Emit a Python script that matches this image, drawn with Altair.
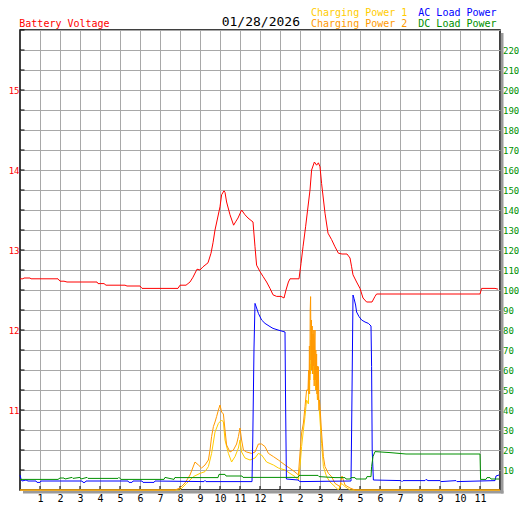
import altair as alt
import pandas as pd

# ---------------- data (hours since midnight) ----------------
volt_hours = [0.0, 0.15, 0.2, 0.5, 0.55, 1.9, 2.0, 2.2, 2.35, 3.85, 3.9, 4.2, 4.3, 5.25, 5.35, 6.0, 6.1, 7.9,
              8.0, 8.3, 8.4, 8.5, 8.65, 8.85, 9.0, 9.15, 9.4, 9.55, 9.65, 9.75, 9.88, 10.0, 10.08, 10.2, 10.25,
              10.33, 10.5, 10.68, 10.8, 10.9, 11.08, 11.25, 11.4, 11.65, 11.75, 11.83, 12.0, 12.15, 12.33, 12.5,
              12.65, 12.83, 13.05, 13.2, 13.3, 13.42, 13.5, 13.95, 14.05, 14.15, 14.28, 14.38, 14.5, 14.58, 14.72,
              14.83, 14.92, 15.0, 15.08, 15.25, 15.4, 15.58, 15.75, 15.92, 16.1, 16.35, 16.5, 16.58, 16.65, 16.83,
              17.0, 17.15, 17.33, 17.6, 17.75, 17.83, 23.0, 23.08, 23.75, 23.9]
volt_values = [12.64, 12.64, 12.65, 12.65, 12.64, 12.64, 12.61, 12.61, 12.60, 12.60, 12.58, 12.58, 12.56, 12.56,
               12.55, 12.55, 12.52, 12.52, 12.56, 12.56, 12.58, 12.60, 12.66, 12.76, 12.75, 12.79, 12.84, 12.96,
               13.09, 13.25, 13.40, 13.54, 13.69, 13.74, 13.72, 13.60, 13.44, 13.31, 13.36, 13.40, 13.50, 13.44,
               13.40, 13.35, 13.04, 12.81, 12.73, 12.67, 12.60, 12.52, 12.44, 12.42, 12.42, 12.40, 12.50, 12.60,
               12.64, 12.64, 12.83, 13.04, 13.29, 13.50, 13.75, 14.00, 14.10, 14.06, 14.09, 14.04, 13.83, 13.46,
               13.21, 13.13, 13.04, 12.96, 12.95, 12.95, 12.90, 12.79, 12.69, 12.60, 12.52, 12.40, 12.35, 12.35,
               12.42, 12.45, 12.45, 12.52, 12.52, 12.51]

cp1_hours = [0.0, 7.9, 8.0, 8.33, 8.67, 9.0, 9.25, 9.42, 9.58, 9.75, 9.92, 10.08, 10.17, 10.25, 10.42, 10.58,
             10.75, 10.92, 11.0, 11.08, 11.25, 11.5, 11.75, 11.92, 12.08, 12.33, 12.67, 12.92, 13.25, 13.5, 13.75,
             13.92, 14.0, 14.08, 14.17, 14.25, 14.33, 14.42, 14.45, 14.48, 14.5, 14.53, 14.55, 14.58, 14.62,
             14.65, 14.67, 14.7, 14.75, 14.78, 14.83, 14.87, 14.92, 15.0,
             15.08, 15.17, 15.33, 15.5, 15.75, 15.92, 16.08, 16.25, 16.5, 24.0]
cp1_values = [0, 0, 0, 3.3, 6.7, 8.3, 9.2, 11.7, 18.3, 29, 33.3, 35, 34, 25, 18.3, 14, 16.7, 21, 25, 19, 16, 15,
              16, 18.3, 17.5, 14, 12.5, 11, 10, 8.3, 6.7, 5, 11.7, 21.7, 30, 36.7, 45, 43, 55, 48, 63, 58, 75, 60,
              70, 58, 71.7, 55, 61.7, 50, 55, 45, 46.7, 35,
              23.3, 11.7, 6.7, 4, 1.7, 0, 3.3, 1.7, 0, 0]

cp2_hours = [0.0, 7.75, 8.0, 8.25, 8.5, 8.75, 8.92, 9.08, 9.25, 9.42, 9.5, 9.58, 9.67, 9.75, 9.83, 9.92, 10.0,
             10.08, 10.17, 10.25, 10.33, 10.5, 10.67, 10.83, 10.92, 11.0, 11.08, 11.17, 11.33, 11.58, 11.75, 11.92,
             12.08, 12.25, 12.42, 12.67, 12.92, 13.25, 13.5, 13.75, 13.92, 14.0, 14.08, 14.17, 14.25, 14.33, 14.4,
             14.43, 14.45, 14.47, 14.49, 14.51, 14.53, 14.55, 14.57, 14.59, 14.61, 14.63, 14.65, 14.67, 14.69,
             14.71, 14.73, 14.75, 14.77, 14.79, 14.81, 14.83, 14.85, 14.87, 14.9, 14.92, 14.95, 14.97,
             15.0, 15.08, 15.17, 15.25, 15.42, 15.58, 15.75, 16.0, 16.1, 16.25, 16.5, 16.75, 24.0]
cp2_values = [0, 0, 1, 3.5, 7.5, 14, 12.5, 11, 12.5, 15, 20, 26.7, 31.7, 34, 36.7, 40, 42.5, 39, 38, 30, 22.5, 19,
              20, 23, 26.7, 31, 25, 20, 19, 18.3, 19, 23, 23, 21.7, 18.3, 16.7, 15, 12.5, 10.8, 9, 7.5, 18.5, 28.5,
              33.5, 41.7, 50, 50, 60, 48, 72, 55, 90, 96.7, 65, 85, 60, 82, 58, 78, 62, 80, 52, 75, 80, 55, 70, 50,
              68, 48, 62, 45, 61.7, 40, 45,
              41.7, 28.5, 16.7, 11.7, 8.3, 6.7, 3.3, 1.7, 7, 2.5, 1, 0, 0]

ac_hours = [0.0, 0.05, 0.1, 0.3, 0.4, 0.8, 0.85, 1.0, 1.05, 3.1, 3.15, 3.25, 3.3, 5.4, 5.45, 5.6, 5.65, 6.1, 6.15,
            6.7, 6.75, 9.2, 9.25, 9.3, 11.6, 11.64, 11.7, 11.75, 11.83, 11.92, 12.08, 12.25, 12.5, 12.65, 12.9,
            13.25, 13.28, 13.32, 13.9, 14.0, 16.55, 16.58, 16.65, 16.7, 16.78, 16.83, 16.95, 17.08, 17.25, 17.42,
            17.55, 17.58, 17.61, 17.67, 19.05, 19.1, 19.15, 20.25, 20.3, 20.4, 21.0, 21.05, 21.8, 21.85, 23.75,
            23.8, 23.95]
ac_values = [7.5, 5.5, 4.5, 5.0, 4.5, 4.5, 3.8, 3.8, 4.5, 4.5, 3.8, 3.8, 4.5, 4.5, 3.8, 3.8, 4.5, 4.5, 3.8, 3.8,
             4.5, 4.2, 4.8, 4.2, 4.2, 26.5, 71, 93.3, 91, 88.3, 85, 83.3, 81.7, 80.8, 80, 79, 43, 5.5, 5.0, 4.2,
             4.5, 29, 97.5, 95.8, 92.5, 89, 86.7, 85, 84, 83.3, 82, 61.7, 20, 5, 4.7, 4.2, 4.7, 4.7, 5.3, 4.7, 4.7,
             4.2, 4.7, 4.2, 4.7, 7, 7.5]

dc_hours = [0.0, 1.9, 2.0, 2.2, 2.25, 2.6, 2.65, 3.0, 3.05, 3.35, 3.4, 4.9, 4.95, 5.05, 7.2, 7.25, 7.7, 7.75, 7.8,
            9.9, 9.95, 10.25, 10.3, 11.1, 11.15, 13.9, 13.95, 14.9, 14.95, 15.75, 16.25, 16.3, 16.5, 16.55, 16.75,
            16.8, 17.3, 17.35, 17.55, 17.58, 17.65, 17.75, 18.5, 19.3, 23.0, 23.03, 23.3, 23.35, 23.5, 23.55, 23.95]
dc_values = [5.3, 5.3, 6.0, 6.0, 5.5, 6.3, 5.8, 6.3, 5.5, 6.3, 5.8, 5.8, 6.3, 5.3, 5.3, 6.3, 5.3, 6.3, 6.2, 6.2,
             7.8, 7.8, 7.0, 7.0, 6.3, 6.3, 7.3, 7.3, 6.7, 6.2, 6.2, 5.5, 5.5, 6.2, 6.2, 5.5, 5.5, 6.7, 6.7, 11.7,
             16.7, 19.2, 18.7, 18.0, 18.0, 5.3, 5.3, 6.2, 6.2, 5.5, 5.5]

hour_ticks = list(range(1, 24))
volt_grid = [10 + 0.25 * i for i in range(24)]
power_ticks = list(range(10, 230, 10))

title_left = "Battery Voltage"
date_text = "01/28/2026"
legend_labels = ["Charging Power 1", "Charging Power 2", "AC Load Power", "DC Load Power"]

# ---------------- styling ----------------
FONT = "DejaVu Sans Mono"
W, H = 480, 460
GRID = "#a8a8a8"
RED, YEL, ORA, BLU, GRN = "#ff0000", "#ffcc00", "#ff9900", "#0000ff", "#009000"

hour_scale = alt.Scale(domain=[0, 24], nice=False, zero=False)
volt_scale = alt.Scale(domain=[10, 15.75], nice=False, zero=False)
power_scale = alt.Scale(domain=[0, 230], nice=False, zero=False)

x_axis = alt.Axis(values=hour_ticks, labelExpr="datum.value == 12 ? '12' : '' + (datum.value % 12)",
                  grid=True, gridColor=GRID, gridWidth=1, ticks=False, domain=False, labelFont=FONT,
                  labelFontSize=10, labelColor="black", labelPadding=11, labelBaseline="alphabetic",
                  title=None, labelFlush=False, labelOverlap=False)
left_axis = alt.Axis(orient="left", values=volt_grid,
                     labelExpr="(datum.value % 1 == 0 && datum.value > 10) ? format(datum.value, 'd') : ''",
                     grid=True, gridColor=GRID, gridWidth=1, ticks=False, domain=False, labelFont=FONT,
                     labelFontSize=9, labelColor=RED, labelPadding=1, title=None, labelFlush=False,
                     labelOverlap=False)
right_axis = alt.Axis(orient="right", values=power_ticks, format="d", grid=False, ticks=False, domain=False,
                      labelFont=FONT, labelFontSize=9, labelColor=GRN, labelPadding=2.5, title=None,
                      labelFlush=False, labelOverlap=False)

X = alt.X("h:Q", scale=hour_scale, axis=x_axis)

volt_df = pd.DataFrame({"h": volt_hours, "v": volt_values})
red = alt.Chart(volt_df).mark_line(color=RED, strokeWidth=1).encode(
    x=X, y=alt.Y("v:Q", scale=volt_scale, axis=left_axis))
left_ticks = alt.Chart(pd.DataFrame({"v": volt_grid[1:]})).mark_rule(color="black", strokeWidth=1).encode(
    y=alt.Y("v:Q", scale=volt_scale, axis=left_axis), x=alt.value(0), x2=alt.value(4.5))
bottom_ticks = alt.Chart(pd.DataFrame({"h": hour_ticks})).mark_rule(color="black", strokeWidth=1).encode(
    x=X, y=alt.value(H), y2=alt.value(H - 4))
volt_group = alt.layer(red, left_ticks, bottom_ticks)


def power_line(hours, values, color):
    df = pd.DataFrame({"h": hours, "p": values})
    return alt.Chart(df).mark_line(color=color, strokeWidth=1).encode(
        x=X, y=alt.Y("p:Q", scale=power_scale, axis=right_axis))


power_group = alt.layer(
    power_line(cp1_hours, cp1_values, YEL),
    power_line(cp2_hours, cp2_values, ORA),
    power_line(ac_hours, ac_values, BLU),
    power_line(dc_hours, dc_values, GRN),
)

one = pd.DataFrame({"k": [0]})
shadow_r = alt.Chart(one).mark_rect(color="#9a9a9a").encode(
    x=alt.value(W + 0.8), x2=alt.value(W + 3.5), y=alt.value(3), y2=alt.value(H + 3.5))
shadow_b = alt.Chart(one).mark_rect(color="#9a9a9a").encode(
    x=alt.value(3), x2=alt.value(W + 3.5), y=alt.value(H + 0.8), y2=alt.value(H + 3.5))


def label(text, color, x, y, size=10):
    return alt.Chart(pd.DataFrame({"t": [text]})).mark_text(
        align="left", baseline="alphabetic", font=FONT, fontSize=size, color=color).encode(
        text="t:N", x=alt.value(x), y=alt.value(y))


texts = [
    label(title_left, RED, -0.7, -3.3),
    label(date_text, "black", 201.7, -4, 13),
    label(legend_labels[0], YEL, 291, -14.5),
    label(legend_labels[1], ORA, 291, -3.3),
    label(legend_labels[2], BLU, 398.3, -14.5),
    label(legend_labels[3], GRN, 398.3, -3.3),
]

chart = alt.layer(shadow_r, shadow_b, volt_group, power_group, *texts).resolve_scale(
    y="independent"
).properties(
    width=W, height=H,
    padding={"left": 12, "top": 22, "right": 19, "bottom": 12},
    autosize=alt.AutoSizeParams(type="none"),
    background="white",
).configure_view(stroke="black", strokeWidth=1.5, fill="white")

chart.save("out.html", embed_options={"renderer": "svg", "actions": False})
